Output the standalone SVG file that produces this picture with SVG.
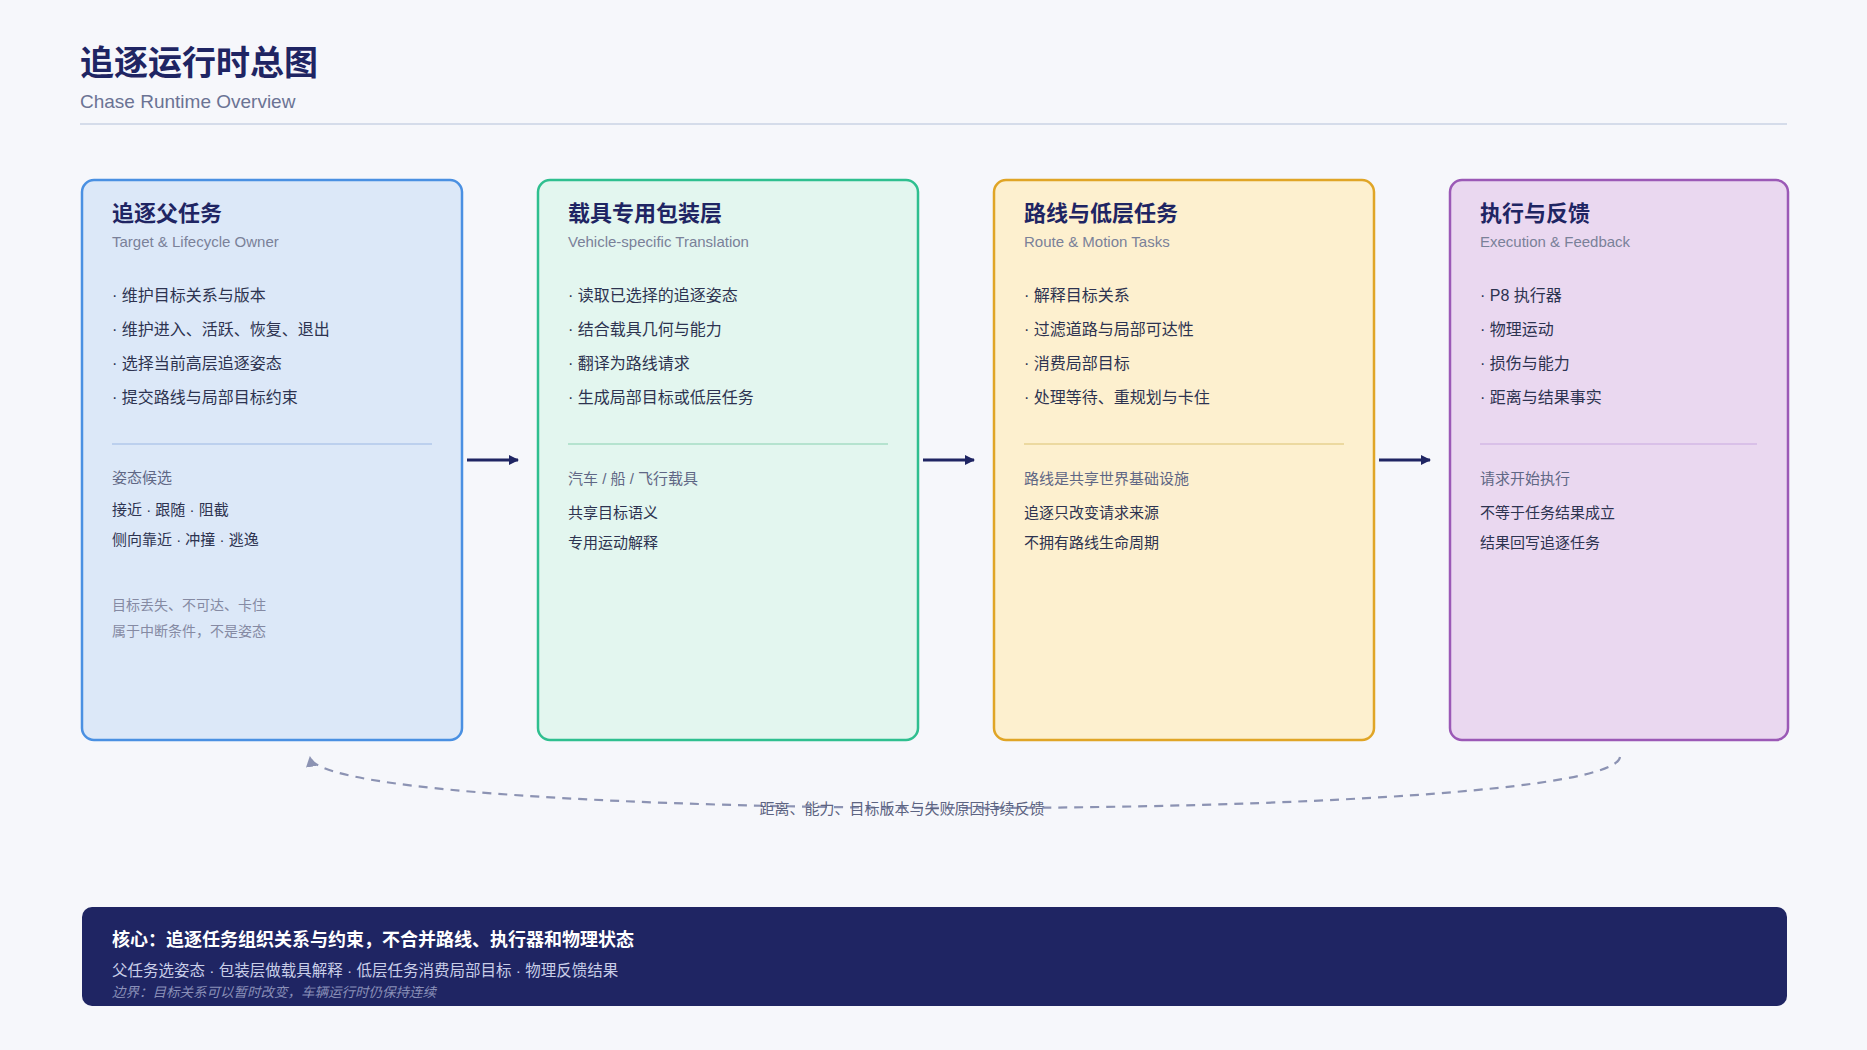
<svg xmlns="http://www.w3.org/2000/svg" width="1867" height="1050" viewBox="0 0 1867 1050">
<defs>
<style>
text{font-family:"Liberation Sans","Noto Sans CJK SC",sans-serif;}
.h1{font-size:34px;font-weight:700;fill:#1f2563;}
.h1s{font-size:19px;fill:#6b7394;}
.ct{font-size:22px;font-weight:700;fill:#1f2563;}
.cs{font-size:15px;fill:#7a8199;}
.b{font-size:16px;fill:#2d3350;}
.sh{font-size:15px;fill:#5f6785;}
.si{font-size:15px;fill:#2d3350;}
.nt{font-size:14px;fill:#858aa3;}
.card{stroke-width:2.5;}
.div{stroke-width:2;}
.flow{stroke:#1f2563;stroke-width:3;fill:none;}
.fb{stroke:#8c93b3;stroke-width:2.2;fill:none;stroke-dasharray:9 7;}
</style>
<marker id="ah" viewBox="0 0 10 10" refX="9" refY="5" markerWidth="10" markerHeight="10" markerUnits="userSpaceOnUse" orient="auto">
<path d="M0,0 L10,5 L0,10 z" fill="#1f2563"/>
</marker>
<marker id="ah2" viewBox="0 0 10 10" refX="9" refY="5" markerWidth="11" markerHeight="11" markerUnits="userSpaceOnUse" orient="auto">
<path d="M0,0 L10,5 L0,10 z" fill="#8c93b3"/>
</marker>
</defs>
<rect x="0" y="0" width="1867" height="1050" fill="#f6f7fb"/>

<g id="header">
<text class="h1" x="80" y="75">追逐运行时总图</text>
<text class="h1s" x="80" y="108">Chase Runtime Overview</text>
<line x1="80" y1="124" x2="1787" y2="124" stroke="#d5dcea" stroke-width="2"/>
</g>

<g id="node-parent">
<rect class="card" x="82" y="180" width="380" height="560" rx="12" fill="#dce8f8" stroke="#4a90e2"/>
<text class="ct" x="112" y="221">追逐父任务</text>
<text class="cs" x="112" y="247">Target &amp; Lifecycle Owner</text>
<text class="b" x="112" y="301">· 维护目标关系与版本</text>
<text class="b" x="112" y="335">· 维护进入、活跃、恢复、退出</text>
<text class="b" x="112" y="369">· 选择当前高层追逐姿态</text>
<text class="b" x="112" y="403">· 提交路线与局部目标约束</text>
<line class="div" x1="112" y1="444" x2="432" y2="444" stroke="#bcd0ee"/>
<text class="sh" x="112" y="483">姿态候选</text>
<text class="si" x="112" y="515">接近 · 跟随 · 阻截</text>
<text class="si" x="112" y="545">侧向靠近 · 冲撞 · 逃逸</text>
<text class="nt" x="112" y="610">目标丢失、不可达、卡住</text>
<text class="nt" x="112" y="636">属于中断条件，不是姿态</text>
</g>

<g id="node-wrapper">
<rect class="card" x="538" y="180" width="380" height="560" rx="12" fill="#e3f6ef" stroke="#2fbf8f"/>
<text class="ct" x="568" y="221">载具专用包装层</text>
<text class="cs" x="568" y="247">Vehicle-specific Translation</text>
<text class="b" x="568" y="301">· 读取已选择的追逐姿态</text>
<text class="b" x="568" y="335">· 结合载具几何与能力</text>
<text class="b" x="568" y="369">· 翻译为路线请求</text>
<text class="b" x="568" y="403">· 生成局部目标或低层任务</text>
<line class="div" x1="568" y1="444" x2="888" y2="444" stroke="#b5e3cf"/>
<text class="sh" x="568" y="484">汽车 / 船 / 飞行载具</text>
<text class="si" x="568" y="518">共享目标语义</text>
<text class="si" x="568" y="548">专用运动解释</text>
</g>

<g id="node-route">
<rect class="card" x="994" y="180" width="380" height="560" rx="12" fill="#fdf0cf" stroke="#e0a526"/>
<text class="ct" x="1024" y="221">路线与低层任务</text>
<text class="cs" x="1024" y="247">Route &amp; Motion Tasks</text>
<text class="b" x="1024" y="301">· 解释目标关系</text>
<text class="b" x="1024" y="335">· 过滤道路与局部可达性</text>
<text class="b" x="1024" y="369">· 消费局部目标</text>
<text class="b" x="1024" y="403">· 处理等待、重规划与卡住</text>
<line class="div" x1="1024" y1="444" x2="1344" y2="444" stroke="#ecd9a0"/>
<text class="sh" x="1024" y="484">路线是共享世界基础设施</text>
<text class="si" x="1024" y="518">追逐只改变请求来源</text>
<text class="si" x="1024" y="548">不拥有路线生命周期</text>
</g>

<g id="node-exec">
<rect class="card" x="1450" y="180" width="338" height="560" rx="12" fill="#ead8f0" stroke="#9b59b6"/>
<text class="ct" x="1480" y="221">执行与反馈</text>
<text class="cs" x="1480" y="247">Execution &amp; Feedback</text>
<text class="b" x="1480" y="301">· P8 执行器</text>
<text class="b" x="1480" y="335">· 物理运动</text>
<text class="b" x="1480" y="369">· 损伤与能力</text>
<text class="b" x="1480" y="403">· 距离与结果事实</text>
<line class="div" x1="1480" y1="444" x2="1757" y2="444" stroke="#d9c0e8"/>
<text class="sh" x="1480" y="484">请求开始执行</text>
<text class="si" x="1480" y="518">不等于任务结果成立</text>
<text class="si" x="1480" y="548">结果回写追逐任务</text>
</g>

<g id="connectors">
<line class="flow" x1="467" y1="460" x2="518" y2="460" marker-end="url(#ah)"/>
<line class="flow" x1="923" y1="460" x2="974" y2="460" marker-end="url(#ah)"/>
<line class="flow" x1="1379" y1="460" x2="1430" y2="460" marker-end="url(#ah)"/>
<path class="fb" d="M1620,757 C1610,825 320,825 310,757" marker-end="url(#ah2)"/>
<text x="902" y="814" text-anchor="middle" style="font-size:15px;fill:#5d6482;">距离、能力、目标版本与失败原因持续反馈</text>
</g>

<g id="summary">
<rect x="82" y="907" width="1705" height="99" rx="10" fill="#1f2563"/>
<text x="112" y="946" style="font-size:18px;font-weight:700;fill:#ffffff;">核心：追逐任务组织关系与约束，不合并路线、执行器和物理状态</text>
<text x="112" y="976" style="font-size:15.5px;fill:#c9cee8;">父任务选姿态 · 包装层做载具解释 · 低层任务消费局部目标 · 物理反馈结果</text>
<text x="112" y="997" style="font-size:13.5px;font-style:italic;fill:#8a90b8;">边界：目标关系可以暂时改变，车辆运行时仍保持连续</text>
</g>
</svg>
